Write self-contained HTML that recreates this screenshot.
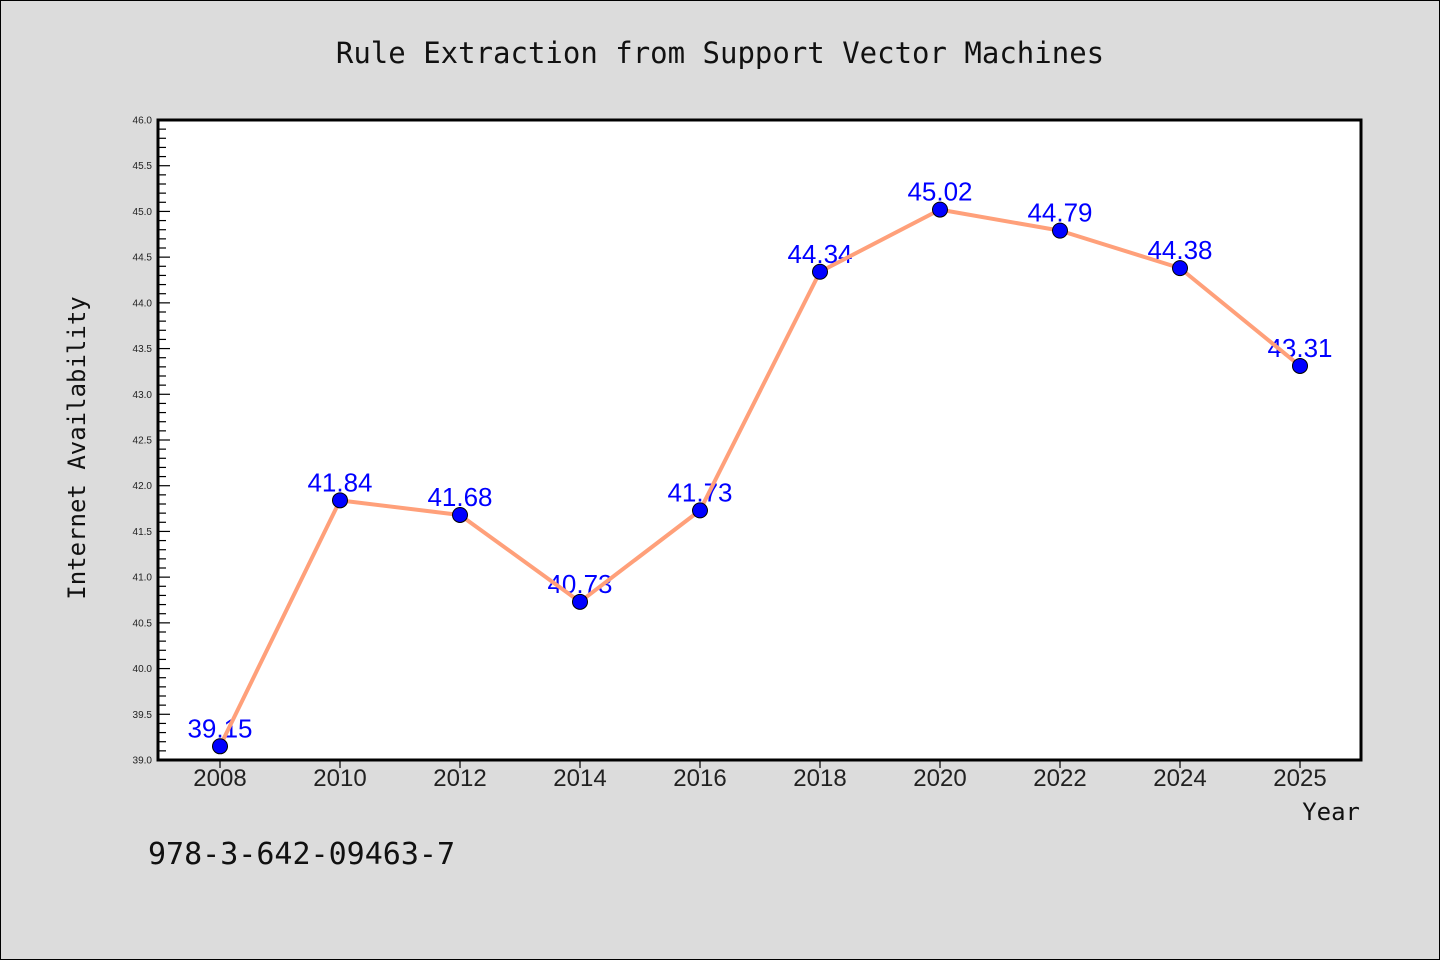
<!DOCTYPE html>
<html><head><meta charset="utf-8"><style>
body{margin:0;background:#dcdcdc;}
svg{display:block;font-family:"Liberation Sans","DejaVu Sans",sans-serif;}
</style></head><body>
<svg id="c" width="1440" height="960">
<rect x="0.5" y="0.5" width="1439" height="959" fill="#dcdcdc" stroke="#000"/>
<text x="720" y="63" text-anchor="middle" font-size="29" font-family="DejaVu Sans Mono, monospace" fill="#111">Rule Extraction from Support Vector Machines</text>
<rect x="158" y="120" width="1203" height="640" fill="#fff"/>
<text transform="translate(85,448) rotate(-90)" text-anchor="middle" font-size="24" font-family="DejaVu Sans Mono, monospace" fill="#111">Internet Availability</text>
<text x="1360" y="820" text-anchor="end" font-size="24" font-family="DejaVu Sans Mono, monospace" fill="#111">Year</text>
<text x="148" y="864" font-size="30" font-family="DejaVu Sans Mono, monospace" fill="#111">978-3-642-09463-7</text>
<g id="axes"></g><g id="marks"></g>
<rect x="158" y="120" width="1203" height="640" fill="none" stroke="#000" stroke-width="3"/>
</svg>
<script>
const categories=["2008","2010","2012","2014","2016","2018","2020","2022","2024","2025"];
const values=[39.15,41.84,41.68,40.73,41.73,44.34,45.02,44.79,44.38,43.31];
const valueLabels=["39.15","41.84","41.68","40.73","41.73","44.34","45.02","44.79","44.38","43.31"];
const yMin=39,yMax=46;
const NS="http://www.w3.org/2000/svg";
const X0=158,X1=1361,Y0=760,Y1=120;
const y=v=>Y0-(v-yMin)/(yMax-yMin)*(Y0-Y1);
const x=i=>220+i*120;
function mk(t,a,p){const e=document.createElementNS(NS,t);for(const k in a)e.setAttribute(k,a[k]);p.appendChild(e);return e;}
const ax=document.getElementById('axes'),mg=document.getElementById('marks');
for(let k=0;k<=70;k++){const v=yMin+k*0.1;const maj=k%5===0;const yy=y(v);
 const l=mk('line',{x1:X0,x2:X0+(maj?12:8),y1:yy,y2:yy,stroke:'#000','stroke-width':1.2},ax);
 
 
 if(maj){const t=mk('text',{x:X0-6,y:yy+3.5,'text-anchor':'end','font-size':10,fill:'#222'},ax);t.textContent=v.toFixed(1);
 
 }}
categories.forEach((c,i)=>{
 const l=mk('line',{x1:x(i),x2:x(i),y1:Y0,y2:Y0+8,stroke:'#000','stroke-width':1.2},ax);
 
 
 const t=mk('text',{x:x(i),y:786,'text-anchor':'middle','font-size':24,fill:'#222'},ax);t.textContent=c;
 
 
 const lb=mk('text',{x:x(i),y:y(values[i])-9,'text-anchor':'middle','font-size':26,fill:'#0000ff'},mg);lb.textContent=valueLabels[i];
 
 
});
const pl=mk('polyline',{points:values.map((v,i)=>x(i)+','+y(v)).join(' '),fill:'none',stroke:'#ffa07a','stroke-width':4,'stroke-linejoin':'round'},mg);


values.forEach((v,i)=>{const c=mk('circle',{cx:x(i),cy:y(v),r:7.5,fill:'#0000ff',stroke:'#000','stroke-width':1},mg);
 
 });
</script>
</body></html>
